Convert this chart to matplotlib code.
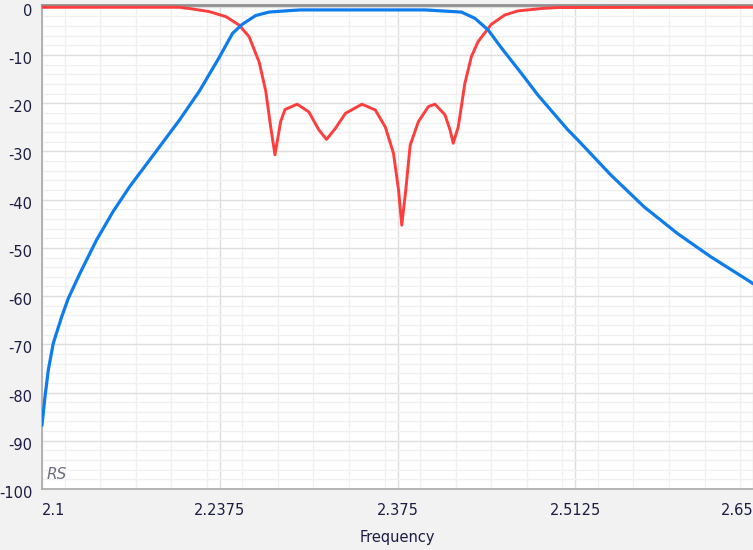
import matplotlib
matplotlib.use("Agg")
import matplotlib.pyplot as plt
from matplotlib.ticker import MultipleLocator, FixedLocator
from matplotlib.transforms import ScaledTranslation

plt.rcParams['axes.unicode_minus'] = False

# S21 (blue)
freq_s21 = [2.1000, 2.1023, 2.1049, 2.1087, 2.1152, 2.1203, 2.1293, 2.1421,
            2.1549, 2.1678, 2.1832, 2.2063, 2.2217, 2.2371, 2.2474, 2.2551,
            2.2654, 2.2756, 2.2910, 2.3000, 2.3963, 2.4245, 2.4349, 2.4451,
            2.4553, 2.4708, 2.4836, 2.4913, 2.5067, 2.5144, 2.5401, 2.5658,
            2.5915, 2.6171, 2.6477, 2.6500]
s21 = [-86.7, -80.9, -75.3, -69.8, -64.3, -60.5, -55.3, -48.4,
       -42.5, -37.3, -31.8, -23.5, -17.5, -10.5, -5.5, -3.6,
       -1.8, -1.1, -0.8, -0.65, -0.65, -1.1, -2.4, -4.8,
       -8.5, -13.8, -18.3, -20.7, -25.5, -27.6, -34.9, -41.5,
       -47.0, -51.8, -57.0, -57.4]

# S11 (red)
freq_s11 = [2.1000, 2.2060, 2.2150, 2.2294, 2.2423, 2.2525, 2.2602, 2.2680,
            2.2731, 2.2769, 2.2802, 2.2846, 2.2880, 2.2974, 2.3064, 2.3141,
            2.3201, 2.3270, 2.3347, 2.3475, 2.3578, 2.3655, 2.3719, 2.3758,
            2.3783, 2.3814, 2.3848, 2.3912, 2.3989, 2.4040, 2.4117, 2.4156,
            2.4181, 2.4220, 2.4271, 2.4322, 2.4374, 2.4477, 2.4580, 2.4682,
            2.4888, 2.5000, 2.6500]
s11 = [-0.1, -0.1, -0.4, -1.0, -2.05, -3.8, -6.2, -11.5,
       -17.5, -24.9, -30.7, -23.8, -21.3, -20.2, -21.8, -25.5,
       -27.5, -25.2, -22.1, -20.2, -21.4, -24.9, -30.4, -38.0,
       -45.3, -38.0, -28.7, -23.8, -20.7, -20.2, -22.4, -25.5,
       -28.3, -24.9, -15.9, -10.3, -7.2, -3.6, -1.7, -0.85,
       -0.3, -0.15, -0.1]

x_ticks = [2.1, 2.2375, 2.375, 2.5125, 2.65]
x_labels = ["2.1", "2.2375", "2.375", "2.5125", "2.65"]
y_ticks = list(range(0, -101, -10))

fig = plt.figure(figsize=(7.53, 5.5), dpi=100, facecolor="#f2f2f2")
ax = fig.add_axes([42 / 753, 61 / 550, 711 / 753, 484 / 550])
ax.set_facecolor("white")

ax.plot(freq_s11, s11, color="#ff3d3d", lw=2.1, zorder=3)
ax.plot(freq_s21, s21, color="#0f7ced", lw=2.3, zorder=4)

ax.set_xlim(2.1, 2.65)
ax.set_ylim(-100, 0.37)

ax.xaxis.set_major_locator(FixedLocator(x_ticks))
ax.set_xticklabels(x_labels)
ax.xaxis.set_minor_locator(MultipleLocator(0.0275))
ax.yaxis.set_major_locator(FixedLocator(y_ticks))
ax.yaxis.set_minor_locator(MultipleLocator(2))

ax.grid(which="major", color="#dedede", lw=1.0)
ax.grid(which="minor", color="#f0f0f0", lw=1.0)
ax.set_axisbelow(True)

ax.tick_params(which="both", length=0, labelcolor="#1c1c44", labelsize=10.5)
ax.tick_params(axis="x", pad=10)
ax.tick_params(axis="y", pad=7)
xl = ax.get_xticklabels()
xl[0].set_horizontalalignment("left")
xl[-1].set_horizontalalignment("right")
shift = ScaledTranslation(0, -3 / 100, fig.dpi_scale_trans)
for lab in ax.get_yticklabels():
    lab.set_transform(lab.get_transform() + shift)

for s in ax.spines.values():
    s.set_color("#a8a8a8")
    s.set_linewidth(1.2)
ax.spines["top"].set_color("#909090")
ax.spines["top"].set_linewidth(2)
ax.spines["right"].set_visible(False)

ax.set_xlabel("Frequency", fontsize=10.5, color="#1c1c44", labelpad=9)

ax.text(0.007, 0.015, "RS", transform=ax.transAxes, fontsize=11,
        style="italic", color="#6e7080", ha="left", va="bottom")

fig.savefig("out.png", dpi=100, facecolor=fig.get_facecolor())
